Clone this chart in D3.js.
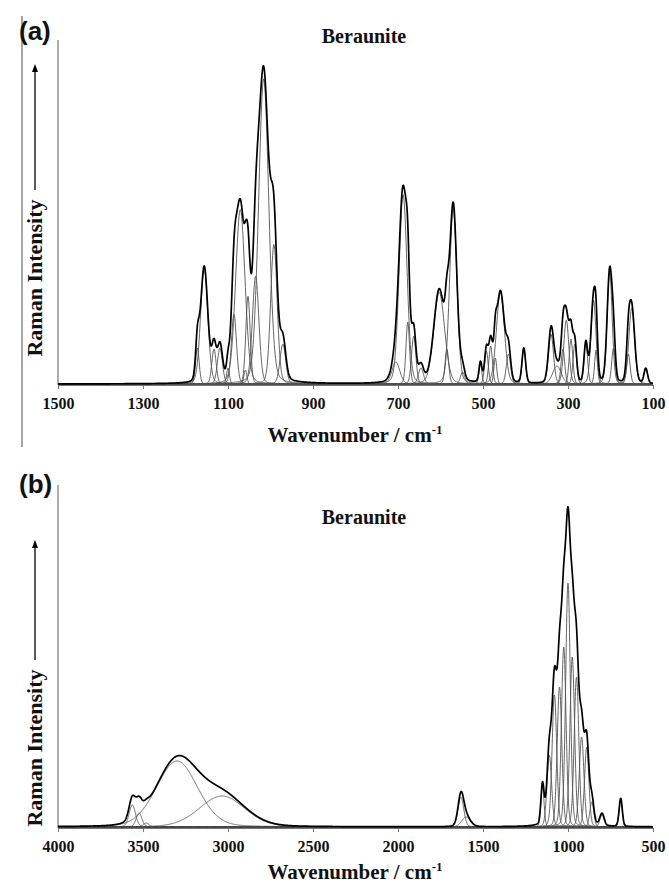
<!DOCTYPE html>
<html>
<head>
<meta charset="utf-8">
<script src="https://cdn.jsdelivr.net/npm/d3@7"></script>
<style>
body{margin:0;background:#fff;}
svg text{font-family:"Liberation Serif","Times New Roman",serif;font-weight:bold;fill:#111;}
</style>
</head>
<body>
<svg id="chart" width="669" height="883"></svg>
<script>
// fitted band components, panel (a): centre (cm-1), height (arb.), fwhm (cm-1)
var bandsA_centre = [1172,1156,1133,1119,1100,1086,1071,1059,1053,1035,1016,992,971,
                     705,688,677,663,646,603,585,570,548,
                     506,492,482,471,459,440,404,
                     340,326,312,304,293,284,258,240,234,202,193,158,150,117];
var bandsA_height = [36,116,35,36,16,70,175,14,88,108,306,140,40,
                     22,190,62,48,16,92,35,176,12,
                     20,33,38,26,92,30,35,
                     50,18,35,64,45,40,40,84,34,112,36,30,76,15];
var bandsA_width  = [10,20,12,14,8,14,26,8,12,18,28,18,16,
                     22,22,10,12,14,30,10,20,12,
                     8,10,10,8,22,12,10,
                     14,24,10,14,10,10,10,14,8,14,10,10,16,10];

// panel (b)
var bandsB_centre = [3563,3523,3482,3300,3035,1630,1600,
                     1150,1110,1080,1050,1025,1000,975,950,920,890,860,800,690];
var bandsB_height = [22,14,4,66,31,30,10,
                     40,72,132,140,180,244,170,150,90,80,25,12,28];
var bandsB_width  = [45,40,40,285,315,40,60,
                     22,32,32,32,32,32,32,32,32,30,28,30,22];

var ticksA = [1500,1300,1100,900,700,500,300,100];
var ticksB = [4000,3500,3000,2500,2000,1500,1000,500];

var eta = 0.15; // lorentzian share of the pseudo-voigt band shape

function band(x, c, h, w){
    var t = (x - c) / w;
    var g = Math.exp(-4 * Math.LN2 * t * t);
    var l = 1 / (1 + 4 * t * t);
    return h * ((1 - eta) * g + eta * l);
}

var svg = d3.select("#chart");

function drawPanel(opt){
    var x = d3.scaleLinear().domain(opt.domain).range([58, 653]);
    var y = d3.scaleLinear().domain([0, opt.ymax]).range([opt.base, opt.top]);
    var g = svg.append("g");

    // axes
    g.append("line").attr("x1", 58).attr("x2", 58).attr("y1", opt.top).attr("y2", opt.base + 1)
        .attr("stroke", "#777").attr("stroke-width", 1.2);
    var xAxis = d3.axisBottom(x).tickValues(opt.ticks).tickSize(4).tickSizeOuter(0).tickFormat(d3.format("d"));
    var ax = g.append("g").attr("transform", "translate(0," + (opt.base + 1) + ")").call(xAxis);
    ax.select(".domain").attr("stroke", "#777").attr("stroke-width", 1.2);
    ax.selectAll(".tick line").attr("stroke", "#777");
    ax.selectAll(".tick text").attr("font-size", 16).attr("dy", "1.05em").attr("fill", "#111")
        .style("font-family", "Liberation Serif").style("font-weight", "bold");

    var xs = d3.range(opt.domain[1], opt.domain[0] + opt.step / 2, opt.step);
    var line = d3.line().x(function(d){ return x(d[0]); }).y(function(d){ return y(d[1]); });

    // components
    opt.centre.forEach(function(c, i){
        var pts = xs.map(function(v){ return [v, band(v, c, opt.height[i], opt.width[i])]; });
        g.append("path").attr("d", line(pts)).attr("fill", "none")
            .attr("stroke", "#555").attr("stroke-width", 0.9);
    });
    // total spectrum
    var total = xs.map(function(v){
        var s = 0;
        opt.centre.forEach(function(c, i){ s += band(v, c, opt.height[i], opt.width[i]); });
        return [v, s];
    });
    g.append("path").attr("d", line(total)).attr("fill", "none")
        .attr("stroke", "#000").attr("stroke-width", 1.7).attr("stroke-linejoin", "round");

    // titles
    g.append("text").attr("x", 364).attr("y", opt.titleY).attr("text-anchor", "middle")
        .attr("font-size", 20).text("Beraunite");
    var xt = g.append("text").attr("x", 355).attr("y", opt.xlabY).attr("text-anchor", "middle")
        .attr("font-size", 21);
    xt.append("tspan").text("Wavenumber / cm");
    xt.append("tspan").attr("font-size", 13).attr("dy", -8).text("-1");

    // y label with arrow
    g.append("text").attr("transform", "translate(42," + opt.ylabY + ") rotate(-90)")
        .attr("text-anchor", "middle").attr("font-size", 22).text("Raman Intensity");
    g.append("line").attr("x1", 35).attr("x2", 35).attr("y1", opt.arrowTop + 6).attr("y2", opt.arrowBot)
        .attr("stroke", "#000").attr("stroke-width", 1.3);
    g.append("path").attr("d", "M35," + opt.arrowTop + "l-3,8h6z").attr("fill", "#000");

    g.append("text").attr("x", 19).attr("y", opt.labY).attr("font-size", 26)
        .style("font-family", "Liberation Sans").style("font-weight", "bold").text(opt.lab);
}

// panel frame line on the left of (a)
svg.append("line").attr("x1", 22).attr("x2", 22).attr("y1", 16).attr("y2", 447)
    .attr("stroke", "#888").attr("stroke-width", 1.5);

drawPanel({domain: [1500, 100], step: 1, ticks: ticksA, ymax: 345, base: 384, top: 40,
    centre: bandsA_centre, height: bandsA_height, width: bandsA_width,
    titleY: 43, xlabY: 442, ylabY: 278, arrowTop: 64, arrowBot: 190, labY: 40, lab: "(a)"});
drawPanel({domain: [4000, 500], step: 1, ticks: ticksB, ymax: 342, base: 827, top: 485,
    centre: bandsB_centre, height: bandsB_height, width: bandsB_width,
    titleY: 524, xlabY: 879, ylabY: 748, arrowTop: 540, arrowBot: 660, labY: 493, lab: "(b)"});
</script>
</body>
</html>
